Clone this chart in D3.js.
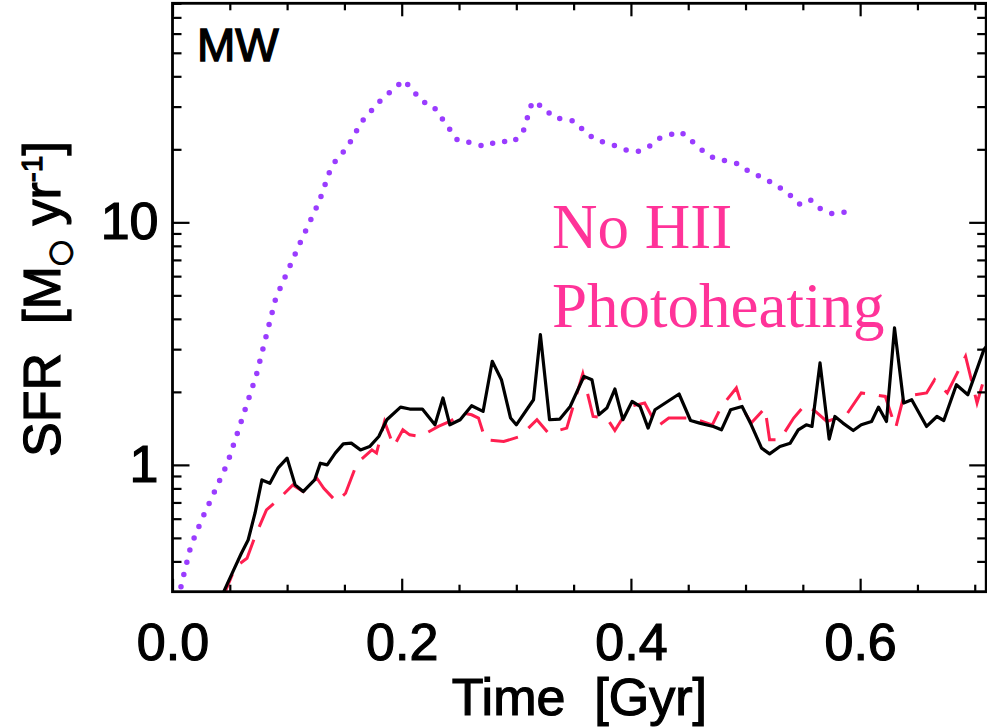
<!DOCTYPE html>
<html>
<head>
<meta charset="utf-8">
<script src="https://cdn.jsdelivr.net/npm/d3@7"></script>
<style>
  html, body { margin: 0; padding: 0; background: #fff; }
  svg { display: block; }
</style>
</head>
<body>
<svg id="chart" width="987" height="727"></svg>
<script>
// values (time in Gyr, SFR in Msun/yr)
const timeBlack = [0.044,0.052,0.060,0.066,0.072,0.078,0.085,0.092,0.100,0.107,0.114,0.124,0.129,0.135,0.142,0.149,0.156,0.164,0.172,0.180,0.187,0.199,0.207,0.218,0.229,0.236,0.242,0.251,0.261,0.271,0.279,0.287,0.295,0.300,0.315,0.321,0.329,0.338,0.347,0.359,0.366,0.372,0.379,0.386,0.393,0.401,0.408,0.415,0.421,0.442,0.452,0.460,0.472,0.479,0.487,0.497,0.505,0.514,0.521,0.530,0.539,0.546,0.553,0.558,0.565,0.573,0.578,0.585,0.594,0.601,0.610,0.616,0.623,0.630,0.638,0.645,0.658,0.667,0.673,0.684,0.694,0.708,0.713];
const sfrBlack = [0.295,0.357,0.431,0.490,0.632,0.867,0.840,0.969,1.066,0.827,0.776,0.867,1.016,1.0,1.118,1.221,1.229,1.153,1.190,1.309,1.535,1.731,1.699,1.699,1.463,1.887,1.463,1.535,1.753,1.661,2.673,2.245,1.560,1.463,1.856,3.445,1.535,1.545,1.741,2.317,2.245,1.609,1.715,2.055,1.535,1.826,1.741,1.418,1.688,1.960,1.524,1.487,1.440,1.395,1.688,1.741,1.463,1.172,1.110,1.190,1.229,1.395,1.463,1.440,2.632,1.277,1.583,1.487,1.386,1.463,1.510,1.731,1.510,3.672,1.799,1.856,1.440,1.583,1.524,2.141,1.947,2.987,3.19];

const timeRed = [0.043,0.055,0.065,0.072,0.082,0.092,0.105,0.114,0.126,0.132,0.143,0.151,0.161,0.174,0.178,0.185,0.193,0.201,0.207,0.216,0.232,0.242,0.254,0.261,0.267,0.273,0.289,0.303,0.318,0.328,0.344,0.358,0.367,0.379,0.386,0.399,0.412,0.423,0.433,0.453,0.471,0.479,0.492,0.498,0.505,0.517,0.521,0.530,0.542,0.552,0.561,0.571,0.588,0.601,0.622,0.631,0.638,0.658,0.665,0.676,0.692,0.702,0.713];
const sfrRed = [0.277,0.380,0.412,0.506,0.652,0.717,0.827,0.776,0.881,0.801,0.705,0.764,1.016,1.153,1.118,1.510,1.190,1.395,1.330,1.309,1.440,1.510,1.635,1.609,1.560,1.269,1.248,1.309,1.535,1.352,1.418,2.377,1.583,1.560,1.386,1.741,1.799,1.440,1.560,1.560,1.463,1.741,2.075,1.688,1.487,1.715,1.269,1.269,1.560,1.770,1.661,1.510,1.609,1.979,1.915,1.418,1.915,1.979,2.245,1.979,2.802,1.799,2.716];

const timePurple = [0.005,0.009,0.016,0.026,0.048,0.073,0.090,0.111,0.128,0.137,0.143,0.152,0.165,0.182,0.202,0.218,0.227,0.249,0.261,0.273,0.284,0.297,0.306,0.314,0.324,0.332,0.351,0.361,0.371,0.382,0.393,0.405,0.415,0.425,0.443,0.447,0.464,0.474,0.485,0.495,0.504,0.515,0.526,0.537,0.547,0.556,0.566,0.577,0.586];
const sfrPurple = [0.28,0.34,0.463,0.602,1.016,2.33,4.85,8.17,12.18,16.14,18.2,20.2,25.97,32.0,38.6,31.4,30.4,21.7,21.3,20.5,21.7,21.3,23.7,31.5,29.8,27.1,26.1,23.3,21.7,21.1,20.0,19.5,20.4,22.2,23.7,22.9,19.5,18.2,17.9,17.3,16.05,15.3,14.3,13.2,11.9,12.45,11.3,10.8,11.0];

const xMajorTicks = [0.0, 0.2, 0.4, 0.6];
const xMinorTicks = [0.05, 0.1, 0.15, 0.25, 0.3, 0.35, 0.45, 0.5, 0.55, 0.65, 0.7];
const yMajorTicks = [1, 10];
const yMinorTicks = [0.4, 0.5, 0.6, 0.7, 0.8, 0.9, 2, 3, 4, 5, 6, 7, 8, 9, 20, 30, 40, 50, 60, 70, 80];

const font = "'Liberation Sans', Arial, Helvetica, sans-serif";

const box = { left: 172.5, right: 986.2, top: 3.3, bottom: 591.7 };

const svg = d3.select("#chart");

const x = d3.scaleLinear().domain([0, 0.71]).range([box.left, box.right]);
const y = d3.scaleLog().domain([0.3, 80]).range([box.bottom, box.top]);

svg.append("defs")
  .append("clipPath")
  .attr("id", "plot-clip")
  .append("rect")
  .attr("x", box.left)
  .attr("y", box.top)
  .attr("width", box.right - box.left)
  .attr("height", box.bottom - box.top);

const toPoints = (ts, vs) => ts.map((t, i) => [t, vs[i]]);

const line = d3.line()
  .x((d) => x(d[0]))
  .y((d) => y(d[1]));

const plot = svg.append("g").attr("clip-path", "url(#plot-clip)");

// no HII photoheating run (dotted)
plot.append("path")
  .datum(toPoints(timePurple, sfrPurple))
  .attr("d", line)
  .attr("fill", "none")
  .attr("stroke", "#9a3cff")
  .attr("stroke-width", 5.5)
  .attr("stroke-linecap", "round")
  .attr("stroke-dasharray", "0 12.6");

// dashed red run
plot.append("path")
  .datum(toPoints(timeRed, sfrRed))
  .attr("d", line)
  .attr("fill", "none")
  .attr("stroke", "#ff1f50")
  .attr("stroke-width", 3)
  .attr("stroke-dasharray", "28 14");

// fiducial run
plot.append("path")
  .datum(toPoints(timeBlack, sfrBlack))
  .attr("d", line)
  .attr("fill", "none")
  .attr("stroke", "#000")
  .attr("stroke-width", 3.2)
  .attr("stroke-linejoin", "round");

// axes, ticks point inward on all four sides
const styleAxis = (g) => {
  g.select(".domain").remove();
  g.selectAll("line").attr("stroke", "#000").attr("stroke-width", 2.2);
  g.selectAll("text")
    .attr("fill", "#000")
    .attr("stroke", "#000")
    .attr("stroke-width", 1.2)
    .style("font-family", font)
    .style("font-size", "52px");
};

svg.append("g")
  .attr("transform", `translate(0,${box.bottom})`)
  .call(d3.axisBottom(x).tickValues(xMajorTicks).tickSize(-13).tickSizeOuter(0)
    .tickPadding(31).tickFormat(d3.format(".1f")))
  .call(styleAxis);
svg.append("g")
  .attr("transform", `translate(0,${box.bottom})`)
  .call(d3.axisBottom(x).tickValues(xMinorTicks).tickSize(-7).tickSizeOuter(0).tickFormat(""))
  .call(styleAxis);
svg.append("g")
  .attr("transform", `translate(0,${box.top})`)
  .call(d3.axisTop(x).tickValues(xMajorTicks).tickSize(-13).tickSizeOuter(0).tickFormat(""))
  .call(styleAxis);
svg.append("g")
  .attr("transform", `translate(0,${box.top})`)
  .call(d3.axisTop(x).tickValues(xMinorTicks).tickSize(-7).tickSizeOuter(0).tickFormat(""))
  .call(styleAxis);

svg.append("g")
  .attr("transform", `translate(${box.left},0)`)
  .call(d3.axisLeft(y).tickValues(yMajorTicks).tickSize(-17).tickSizeOuter(0)
    .tickPadding(14).tickFormat(d3.format("d")))
  .call(styleAxis);
svg.append("g")
  .attr("transform", `translate(${box.left},0)`)
  .call(d3.axisLeft(y).tickValues(yMinorTicks).tickSize(-9).tickSizeOuter(0).tickFormat(""))
  .call(styleAxis);
svg.append("g")
  .attr("transform", `translate(${box.right},0)`)
  .call(d3.axisRight(y).tickValues(yMajorTicks).tickSize(-17).tickSizeOuter(0).tickFormat(""))
  .call(styleAxis);
svg.append("g")
  .attr("transform", `translate(${box.right},0)`)
  .call(d3.axisRight(y).tickValues(yMinorTicks).tickSize(-9).tickSizeOuter(0).tickFormat(""))
  .call(styleAxis);

// frame
svg.append("rect")
  .attr("x", box.left)
  .attr("y", box.top)
  .attr("width", box.right - box.left)
  .attr("height", box.bottom - box.top)
  .attr("fill", "none")
  .attr("stroke", "#000")
  .attr("stroke-width", 2.8);

// axis titles
svg.append("text")
  .attr("x", (box.left + box.right) / 2)
  .attr("y", 715)
  .attr("text-anchor", "middle")
  .attr("stroke", "#000")
  .attr("stroke-width", 1.2)
  .style("font-family", font)
  .style("font-size", "52px")
  .style("white-space", "pre")
  .text("Time  [Gyr]");

const yTitle = svg.append("text")
  .attr("transform", "translate(60,299) rotate(-90)")
  .attr("text-anchor", "middle")
  .attr("stroke", "#000")
  .attr("stroke-width", 1.2)
  .style("font-family", font)
  .style("font-size", "52px")
  .style("white-space", "pre");
yTitle.append("tspan").text("SFR  [M");
yTitle.append("tspan")
  .attr("dy", 9)
  .style("font-size", "30px")
  .style("font-family", "'DejaVu Sans', sans-serif")
  .text("\u25CB");
yTitle.append("tspan").attr("dy", -9).text(" yr");
yTitle.append("tspan")
  .attr("dy", -18)
  .style("font-size", "30px")
  .text("-1");
yTitle.append("tspan").attr("dy", 18).text("]");

// panel label and annotation
svg.append("text")
  .attr("x", 197)
  .attr("y", 61)
  .attr("stroke", "#000")
  .attr("stroke-width", 1.4)
  .style("font-family", font)
  .style("font-size", "46px")
  .text("MW");

const note = svg.append("text")
  .attr("fill", "#ff3399")
  .style("font-family", "'Liberation Serif', 'Times New Roman', serif")
  .style("font-size", "63px");
note.append("tspan").attr("x", 552).attr("y", 248).text("No HII");
note.append("tspan").attr("x", 552).attr("y", 327).text("Photoheating");
</script>
</body>
</html>
